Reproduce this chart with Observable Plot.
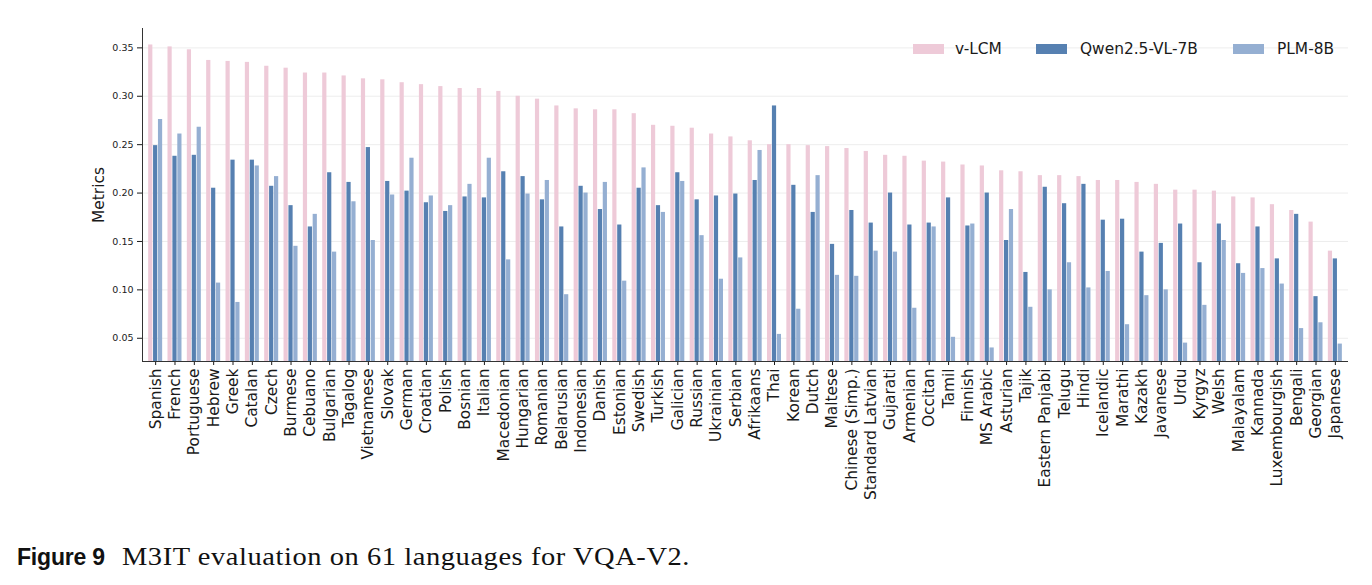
<!DOCTYPE html>
<html>
<head>
<meta charset="utf-8">
<script src="https://cdn.jsdelivr.net/npm/d3@7"></script>
<script src="https://cdn.jsdelivr.net/npm/@observablehq/plot@0.6"></script>
<style>
  html, body { margin: 0; padding: 0; background: #fff; }
  #wrap { position: relative; width: 1372px; height: 585px; font-family: "DejaVu Sans", sans-serif; }
  #legend { position: absolute; top: 38px; left: 0; width: 1372px; height: 22px; font-size: 15.4px; color: #1a1a1a; }
  .sw { position: absolute; top: 6px; width: 31px; height: 10px; }
  .lb { position: absolute; top: 1px; line-height: 20px; white-space: nowrap; }
  #caption { position: absolute; top: 544px; left: 17px; width: 800px; height: 30px; white-space: nowrap; line-height: 1; color: #111; }
  #caption .fig { position: absolute; left: 0; top: 2px; font-family: "Liberation Sans", "Inter", sans-serif; font-weight: 700; font-size: 23px; letter-spacing: -0.2px; }
  #caption .txt { position: absolute; left: 105px; top: 0; font-family: "Liberation Serif", serif; font-size: 25px; letter-spacing: 0.5px; transform-origin: 0 0; }
</style>
</head>
<body>
<div id="wrap">
  <div id="chart"></div>
  <div id="legend"></div>
  <div id="caption"><span class="fig">Figure 9</span><span class="txt" id="captext">M3IT evaluation on 61 languages for VQA-V2.</span></div>
</div>
<script>
// Languages, in the order they are plotted (sorted by v-LCM score)
const languages = [
  "Spanish", "French", "Portuguese", "Hebrew", "Greek", "Catalan", "Czech", "Burmese",
  "Cebuano", "Bulgarian", "Tagalog", "Vietnamese", "Slovak", "German", "Croatian", "Polish",
  "Bosnian", "Italian", "Macedonian", "Hungarian", "Romanian", "Belarusian", "Indonesian", "Danish",
  "Estonian", "Swedish", "Turkish", "Galician", "Russian", "Ukrainian", "Serbian", "Afrikaans",
  "Thai", "Korean", "Dutch", "Maltese", "Chinese (Simp.)", "Standard Latvian", "Gujarati", "Armenian",
  "Occitan", "Tamil", "Finnish", "MS Arabic", "Asturian", "Tajik", "Eastern Panjabi", "Telugu",
  "Hindi", "Icelandic", "Marathi", "Kazakh", "Javanese", "Urdu", "Kyrgyz", "Welsh",
  "Malayalam", "Kannada", "Luxembourgish", "Bengali", "Georgian", "Japanese"
];

const models = ["v-LCM", "Qwen2.5-VL-7B", "PLM-8B"];

const vlcm = [
  0.353, 0.351, 0.348, 0.337, 0.336, 0.335, 0.331, 0.329,
  0.324, 0.324, 0.321, 0.318, 0.317, 0.314, 0.312, 0.310,
  0.308, 0.308, 0.305, 0.300, 0.297, 0.290, 0.287, 0.286,
  0.286, 0.282, 0.270, 0.269, 0.267, 0.261, 0.258, 0.254,
  0.250, 0.250, 0.249, 0.248, 0.246, 0.243, 0.239, 0.238,
  0.233, 0.232, 0.229, 0.228, 0.223, 0.222, 0.218, 0.218,
  0.217, 0.213, 0.213, 0.211, 0.209, 0.203, 0.203, 0.202,
  0.196, 0.195, 0.188, 0.182, 0.170, 0.140
];

const qwen = [
  0.249, 0.238, 0.239, 0.205, 0.234, 0.234, 0.207, 0.187,
  0.165, 0.221, 0.211, 0.247, 0.212, 0.202, 0.190, 0.181,
  0.196, 0.195, 0.222, 0.217, 0.193, 0.165, 0.207, 0.183,
  0.167, 0.205, 0.187, 0.221, 0.193, 0.197, 0.199, 0.213,
  0.290, 0.208, 0.180, 0.147, 0.182, 0.169, 0.200, 0.167,
  0.169, 0.195, 0.166, 0.200, 0.151, 0.118, 0.206, 0.189,
  0.209, 0.172, 0.173, 0.139, 0.148, 0.168, 0.128, 0.168,
  0.127, 0.165, 0.132, 0.178, 0.093, 0.132
];

const plm = [
  0.276, 0.261, 0.268, 0.107, 0.087, 0.228, 0.217, 0.145,
  0.178, 0.139, 0.191, 0.151, 0.198, 0.236, 0.197, 0.187,
  0.209, 0.236, 0.131, 0.199, 0.213, 0.095, 0.200, 0.211,
  0.109, 0.226, 0.180, 0.212, 0.156, 0.111, 0.133, 0.244,
  0.054, 0.080, 0.218, 0.115, 0.114, 0.140, 0.139, 0.081,
  0.165, 0.051, 0.168, 0.040, 0.183, 0.082, 0.100, 0.128,
  0.102, 0.119, 0.064, 0.094, 0.100, 0.045, 0.084, 0.151,
  0.117, 0.122, 0.106, 0.060, 0.066, 0.044
];

const yTicks = [0.05, 0.10, 0.15, 0.20, 0.25, 0.30, 0.35];
const colors = ["#eecad8", "#5680b1", "#95afd2"];

// Long-form table built from the series arrays
const seriesValues = [vlcm, qwen, plm];
const rows = models.map((m, k) =>
  languages.map((lang, i) => ({language: lang, model: m, value: seriesValues[k][i]}))
);

const width = 1372;
const height = 520;
const marginLeft = 142, marginRight = 24, marginTop = 28, marginBottom = 159;
const paddingInner = 0.24, paddingOuter = 0.3;
const yMin = 0.026, yMax = 0.37;

// Each language band is split into three equal slots, one per model
const step = (width - marginLeft - marginRight) / (languages.length - paddingInner + 2 * paddingOuter);
const slot = step * (1 - paddingInner) / 3;
const gap = 0.35;

const chart = Plot.plot({
  width,
  height,
  marginLeft,
  marginRight,
  marginTop,
  marginBottom,
  style: {fontFamily: "DejaVu Sans, sans-serif", color: "#1a1a1a", background: "#fff"},
  x: {domain: languages, paddingInner, paddingOuter, round: false},
  y: {domain: [yMin, yMax]},
  marks: [
    Plot.gridY(yTicks, {stroke: "#ebebeb", strokeOpacity: 1, strokeWidth: 0.9}),
    ...rows.map((data, k) =>
      Plot.barY(data, {
        x: "language",
        y: "value",
        fill: colors[k],
        insetLeft: k * slot + gap,
        insetRight: (2 - k) * slot + gap,
        clip: true
      })
    ),
    Plot.axisY(yTicks, {
      tickFormat: d3.format(".2f"),
      fontSize: 9.5,
      tickSize: 5,
      tickPadding: 4,
      label: null
    }),
    Plot.axisX({
      tickRotate: -90,
      fontSize: 15.4,
      tickSize: 4,
      tickPadding: 3,
      label: null
    }),
    // left and bottom spines
    Plot.frame({anchor: "left", stroke: "#333", strokeWidth: 1}),
    Plot.ruleY([yMin], {stroke: "#333", strokeWidth: 1}),
    Plot.text(["Metrics"], {
      frameAnchor: "left",
      dx: -43,
      rotate: -90,
      fontSize: 15.4,
      textAnchor: "middle"
    })
  ]
});

document.getElementById("chart").appendChild(chart);

// Legend across the top right of the plot area
const legendItems = [
  {name: models[0], color: colors[0], sx: 913, tx: 955},
  {name: models[1], color: colors[1], sx: 1036, tx: 1080},
  {name: models[2], color: colors[2], sx: 1233, tx: 1277}
];
const legend = document.getElementById("legend");
for (const item of legendItems) {
  const sw = document.createElement("div");
  sw.className = "sw";
  sw.style.left = item.sx + "px";
  sw.style.background = item.color;
  legend.appendChild(sw);
  const lb = document.createElement("div");
  lb.className = "lb";
  lb.style.left = item.tx + "px";
  lb.textContent = item.name;
  legend.appendChild(lb);
}

// Widen the caption text to its set width
const cap = document.getElementById("captext");
const natural = cap.getBoundingClientRect().width;
cap.style.transform = "scaleX(" + (568 / natural) + ")";
</script>
</body>
</html>
